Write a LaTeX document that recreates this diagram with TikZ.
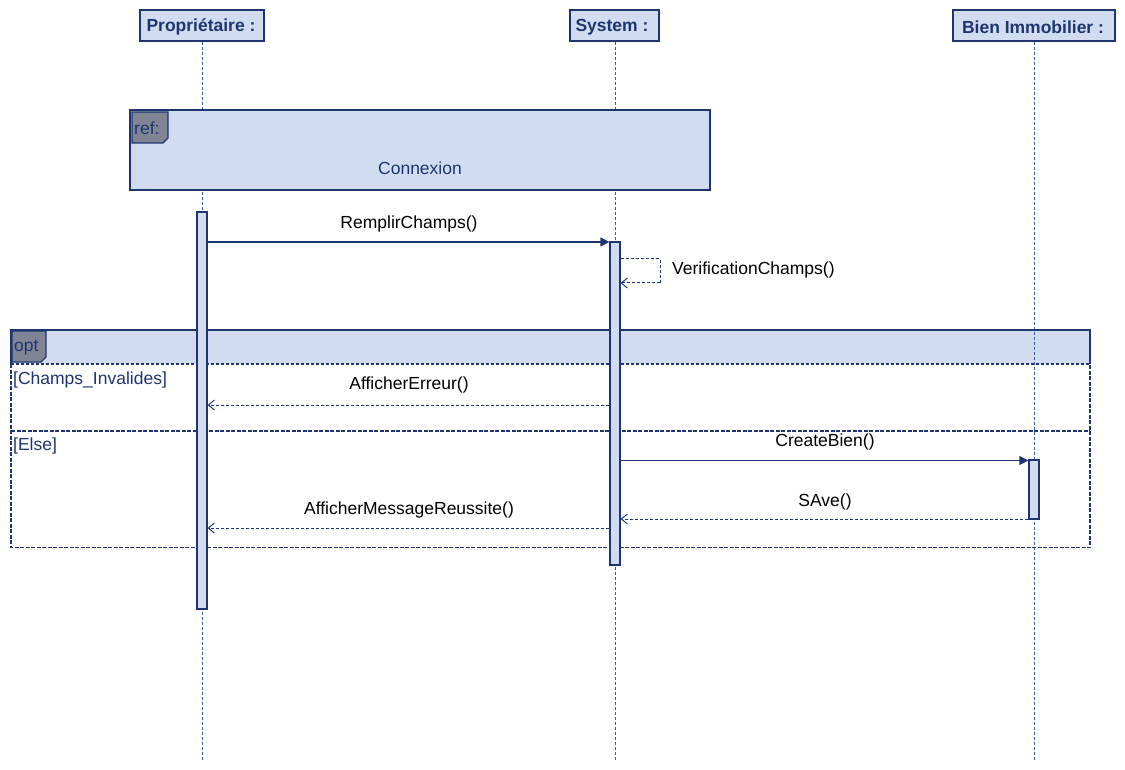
\documentclass[tikz,border=0pt]{standalone}
\usepackage{fontspec}
\setmainfont{Liberation Sans}
\usetikzlibrary{arrows.meta}
\definecolor{fillb}{HTML}{D1DCF0}
\definecolor{navy}{HTML}{1F3570}
\definecolor{lifec}{HTML}{3A5A9A}
\definecolor{taggray}{HTML}{7F8595}
\begin{document}
\begin{tikzpicture}[x=1pt,y=-1pt,
  participant/.style={draw=navy, fill=fillb, line width=1.2pt, minimum height=31pt, inner sep=0pt,
    font=\fontsize{17.5}{20}\selectfont\bfseries, text=navy},
  ptext/.style={font=\fontsize{17.5}{20}\selectfont\bfseries, text=navy, inner sep=0pt},
  lifeline/.style={draw=lifec, dash pattern=on 3pt off 2pt, line width=1pt},
  activation/.style={draw=navy, fill=fillb, line width=1.2pt, minimum width=10pt, inner sep=0pt},
  syncmsg/.style={draw=navy, line width=1.2pt, -{Triangle[length=9pt,width=9pt]}},
  replymsg/.style={draw=navy, line width=1pt, dash pattern=on 3pt off 2pt, -{Straight Barb[length=6pt,width=10pt]}},
  selfpart/.style={draw=navy, line width=1pt, dash pattern=on 3pt off 2pt},
  msglabel/.style={font=\fontsize{17.5}{20}\selectfont, text=black, inner sep=0pt},
  framelabel/.style={font=\fontsize{17.5}{20}\selectfont, text=navy, inner sep=0pt},
  tagbox/.style={draw=navy, fill=taggray, line width=1.2pt},
  framebox/.style={draw=navy, fill=fillb, line width=1.3pt, inner sep=0pt},
  opttop/.style={draw=navy, line width=1.4pt},
  optbody/.style={draw=navy, line width=1.9pt, dash pattern=on 4pt off 1.5pt},
  optsep/.style={draw=navy, line width=1.1pt, dash pattern=on 3pt off 2pt},
  optsepb/.style={draw=navy, line width=1.9pt, dash pattern=on 4pt off 1.5pt}]
\useasboundingbox (0,0) rectangle (1125,770);
\fill[white] (0,0) rectangle (1125,770);

% opt band
\fill[fillb] (11,330) rectangle (1090,364);

% participants
\node[participant, minimum width=124pt] (P) at (202,25.5) {};
\node[participant, minimum width=89pt] (S) at (614.5,25.5) {};
\node[participant, minimum width=162pt] (B) at (1034,25.5) {};
\node[ptext] (Pt) at (201,27) {Propriétaire :};
\node[ptext] (St) at (612,27) {System :};
\node[ptext] (Bt) at (1033,27) {Bien Immobilier :};
\coordinate (Pend) at (202,760);
\coordinate (Send) at (615,760);
\coordinate (Bend) at (1034,760);
\draw[lifeline] (P.south) -- (Pend);
\draw[lifeline] (S.south -| Send) -- (Send);
\draw[lifeline] (B.south) -- (Bend);

% ref frame
\node[framebox, minimum width=580pt, minimum height=80pt] (ref) at (420,150) {};
\draw[tagbox] (132,112) -- (168,112) -- (168,138) -- (163,143) -- (132,143) -- cycle;
\node[framelabel, anchor=west] (reflab) at (134,128) {ref:};
\node[framelabel] (conn) at (420,168) {Connexion};

% opt frame
\draw[opttop] (11,364) -- (11,330) -- (1090,330) -- (1090,364);
\draw[optbody] (11,364) -- (11,547.5) -- (1090,547.5) -- (1090,364);
\draw[optsep] (11,364) -- (1090,364);
\draw[optsepb] (11,431) -- (1090,431);
\draw[tagbox] (12,331) -- (46,331) -- (46,357) -- (41,362) -- (12,362) -- cycle;
\node[framelabel, anchor=west] (optlab) at (14,348) {opt};
\node[framelabel, anchor=west] (g1) at (13,380) {[Champs\_Invalides]};
\node[framelabel, anchor=west] (g2) at (13,446) {[Else]};

% activations
\node[activation, minimum height=397pt] (aP) at (202,410.5) {};
\node[activation, minimum height=323pt] (aS) at (615,403.5) {};
\node[activation, minimum height=59pt] (aB) at (1034,489.5) {};

% y levels
\coordinate (y1) at (0,242);
\coordinate (y2) at (0,259);
\coordinate (y3) at (0,283);
\coordinate (y4) at (0,405);
\coordinate (y5) at (0,460.5);
\coordinate (y6) at (0,519);
\coordinate (y7) at (0,528);
\coordinate (c1) at (660,259);
\coordinate (c2) at (660,283);

% messages
\draw[syncmsg] (aP.east |- y1) -- (aS.west |- y1);
\node[msglabel] (l1) at (409,224) {RemplirChamps()};

\draw[selfpart] (aS.east |- y2) -- (c1) -- (c2);
\draw[replymsg] (c2) -- (aS.east |- y3);
\node[msglabel, anchor=west] (l2) at (672,270) {VerificationChamps()};

\draw[replymsg] (aS.west |- y4) -- (aP.east |- y4);
\node[msglabel] (l3) at (409,385) {AfficherErreur()};

\draw[syncmsg] (aS.east |- y5) -- (aB.west |- y5);
\node[msglabel] (l4) at (825,442) {CreateBien()};

\draw[replymsg] (aB.west |- y6) -- (aS.east |- y6);
\node[msglabel] (l5) at (825,502) {SAve()};

\draw[replymsg] (aS.west |- y7) -- (aP.east |- y7);
\node[msglabel] (l6) at (409,510) {AfficherMessageReussite()};
\end{tikzpicture}
\end{document}
